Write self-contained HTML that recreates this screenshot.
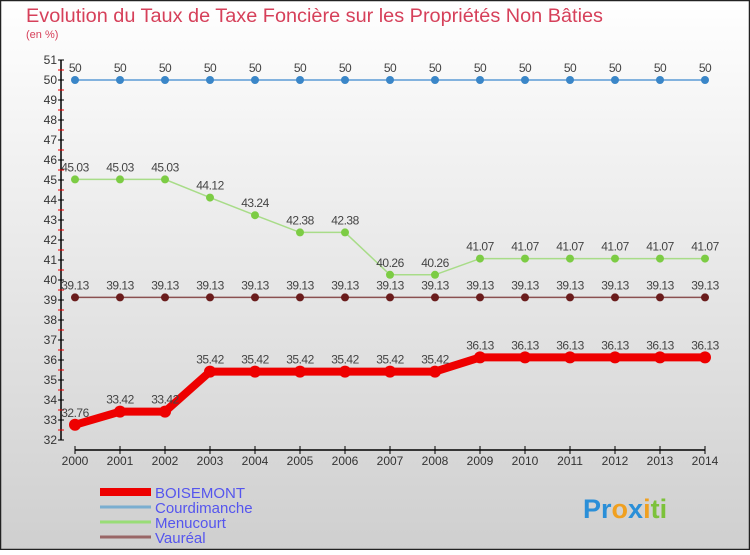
<!DOCTYPE html>
<html><head><meta charset="utf-8"><style>
body{margin:0;width:750px;height:550px;overflow:hidden;font-family:"Liberation Sans",sans-serif}
</style></head><body>
<svg width="750" height="550" xmlns="http://www.w3.org/2000/svg">
<defs><linearGradient id="bg" x1="0" y1="0" x2="0" y2="1"><stop offset="0" stop-color="#ffffff"/><stop offset="1" stop-color="#cfcfcf"/></linearGradient></defs>
<rect x="0" y="0" width="750" height="550" fill="url(#bg)"/>
<rect x="0.5" y="0.5" width="749" height="549" fill="none" stroke="#222" stroke-width="1.5"/>
<text x="26" y="22" font-size="19" fill="#d6405a" textLength="577" lengthAdjust="spacingAndGlyphs">Evolution du Taux de Taxe Foncière sur les Propriétés Non Bâties</text>
<text x="26" y="38" font-size="11" fill="#d6405a">(en %)</text>
<g id="axes"></g>
<g id="series"></g>
<g id="legend"></g>
<g font-size="27" font-weight="bold">
<text x="583" y="518"><tspan fill="#2a8fd8">Pr</tspan><tspan fill="#f0a020">o</tspan><tspan fill="#2a8fd8">x</tspan><tspan fill="#f0a020">i</tspan><tspan fill="#7cc23a">ti</tspan></text>
</g>
</svg>
<script>
const years=[2000,2001,2002,2003,2004,2005,2006,2007,2008,2009,2010,2011,2012,2013,2014];
const boisemont=[32.76,33.42,33.42,35.42,35.42,35.42,35.42,35.42,35.42,36.13,36.13,36.13,36.13,36.13,36.13];
const courdimanche=[50,50,50,50,50,50,50,50,50,50,50,50,50,50,50];
const menucourt=[45.03,45.03,45.03,44.12,43.24,42.38,42.38,40.26,40.26,41.07,41.07,41.07,41.07,41.07,41.07];
const vaureal=[39.13,39.13,39.13,39.13,39.13,39.13,39.13,39.13,39.13,39.13,39.13,39.13,39.13,39.13,39.13];
const yTicks=[32,33,34,35,36,37,38,39,40,41,42,43,44,45,46,47,48,49,50,51];
const NS="http://www.w3.org/2000/svg";
const X=i=>75+i*45, Y=v=>440-(v-32)*20;
function mk(t,a,p){const e=document.createElementNS(NS,t);for(const k in a)e.setAttribute(k,a[k]);p.appendChild(e);return e;}
const ax=document.getElementById('axes');
let l=mk('line',{x1:61,y1:Y(51),x2:61,y2:Y(32),stroke:'#000','stroke-width':1.5},ax);


yTicks.forEach((v,k)=>{
 const t=mk('line',{x1:58,x2:64,y1:Y(v),y2:Y(v),stroke:'#000'},ax);
 
 
 if(k>0){
 const m=mk('line',{x1:58,x2:64,y1:Y(v)+10,y2:Y(v)+10,stroke:'#e00'},ax);
 
 
 }
 const tx=mk('text',{x:57,y:Y(v)+4,'text-anchor':'end','font-size':12,fill:'#333'},ax);
 tx.textContent=v;
 
 
});
l=mk('line',{x1:75,y1:450,x2:705,y2:450,stroke:'#000','stroke-width':1.5},ax);


years.forEach((y,i)=>{
 const t=mk('line',{x1:X(i),x2:X(i),y1:446,y2:454,stroke:'#000'},ax);
 
 
 const tx=mk('text',{x:X(i),y:465,'text-anchor':'middle','font-size':12,fill:'#333'},ax);
 tx.textContent=y;
 
 
});
const sg=document.getElementById('series');
function series(name,vals,color,dot,w,r){
 const g=mk('g',{},sg);
 
 
 const p=mk('polyline',{points:vals.map((v,i)=>X(i)+','+Y(v)).join(' '),fill:'none',stroke:color,'stroke-width':w},g);
 
 
 vals.forEach((v,i)=>{
  const c=mk('circle',{cx:X(i),cy:Y(v),r:r,fill:dot},g);
  
  
  const t=mk('text',{x:X(i),y:Y(v)-8,'text-anchor':'middle','font-size':12,fill:'#444','letter-spacing':'-0.5'},g);
  t.textContent=v;
  
  
 });
}
series('courdimanche',courdimanche,'#5b9bd5','#3a86c8',1.5,4);
series('menucourt',menucourt,'#a8dc88','#7ccc44',1.5,4);
series('vaureal',vaureal,'#8a5050','#6a1c1c',1.5,4);
series('boisemont',boisemont,'#ee0000','#ee0000',8,6);
const lg=document.getElementById('legend');
[['BOISEMONT','#ee0000',8],['Courdimanche','#7aaed0',3],['Menucourt','#99dd77',3],['Vauréal','#996666',3]].forEach((d,i)=>{
 const y=492+i*15;
 const g=mk('g',{},lg);
 
 
 mk('line',{x1:100,x2:151,y1:y,y2:y,stroke:d[1],'stroke-width':d[2]},g);
 const t=mk('text',{x:155,y:y+6,'font-size':15,fill:'#5555ee'},g);
 t.textContent=d[0];
});
</script>
</body></html>
